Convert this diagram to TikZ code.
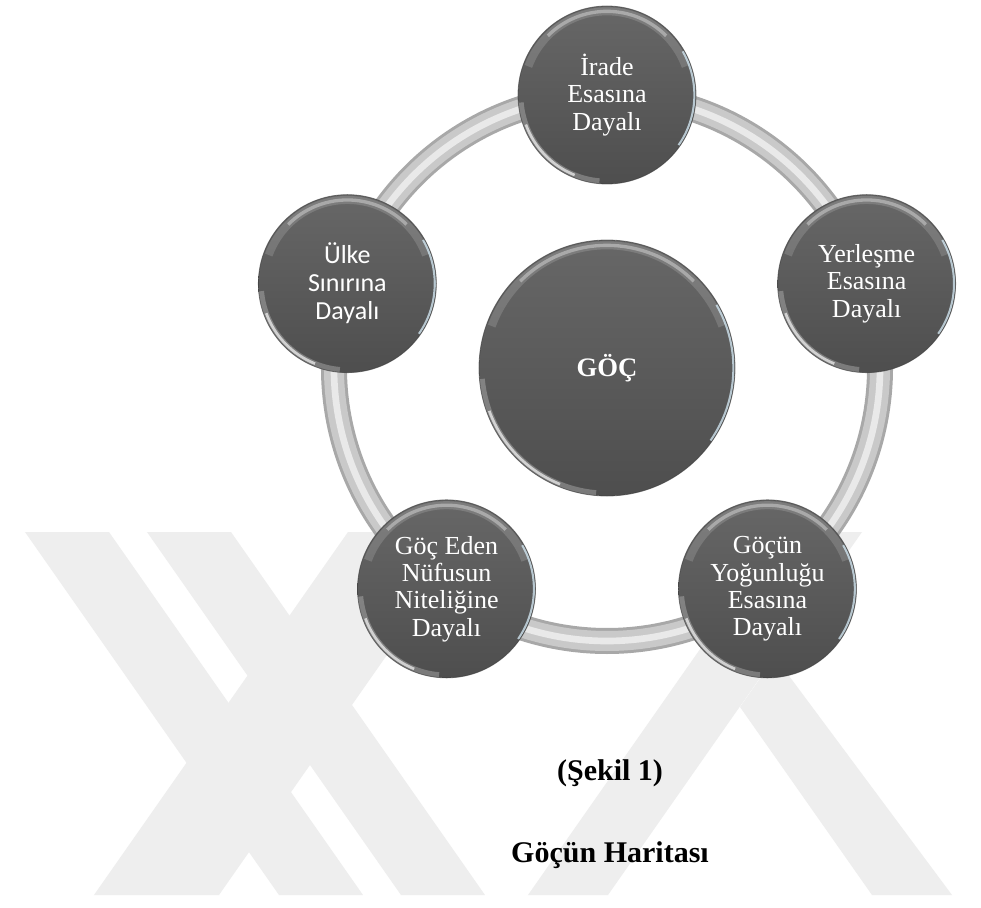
\documentclass[tikz,border=0pt]{standalone}
\usepackage{fontspec}
\setmainfont{Liberation Serif}
\newfontfamily\calibrifont{Carlito}
\usepackage{tikz}
\usetikzlibrary{positioning, calc, backgrounds}
\definecolor{balltop}{HTML}{676767}
\definecolor{ballbottom}{HTML}{4E4E4E}
\definecolor{balledge}{HTML}{3A3A3A}
\definecolor{ballrim}{HTML}{CFE3EE}
\definecolor{ringedge}{HTML}{A8A8A8}
\definecolor{ringbody}{HTML}{C9C9C9}
\definecolor{ringshine}{HTML}{E9E9E9}
\definecolor{markgray}{HTML}{EEEEEE}
\tikzset{
  % Glossy discs (argument = diameter)
  ball/.style={
    circle, minimum size=#1, inner sep=0pt, align=center, text=white,
    top color=balltop, bottom color=ballbottom, draw=balledge, draw opacity=0.6,
    line width=0.6pt, font=\fontsize{19.5}{20.5}\selectfont,
    path picture={
      \draw[white, opacity=0.15, line width=6pt]
        ([shift={(20:#1/2-4pt)}]path picture bounding box.center)
        arc[start angle=20, end angle=160, radius=#1/2-4pt];
      \draw[white, opacity=0.35, line width=2.5pt]
        ([shift={(45:#1/2-4pt)}]path picture bounding box.center)
        arc[start angle=45, end angle=135, radius=#1/2-4pt];
      \draw[white, opacity=0.25, line width=4pt]
        ([shift={(185:#1/2-2pt)}]path picture bounding box.center)
        arc[start angle=185, end angle=265, radius=#1/2-2pt];
      \draw[white, opacity=0.65, line width=2pt]
        ([shift={(200:#1/2-2pt)}]path picture bounding box.center)
        arc[start angle=200, end angle=248, radius=#1/2-2pt];
      \draw[ballrim, opacity=0.8, line width=1.6pt]
        ([shift={(-35:#1/2-1.2pt)}]path picture bounding box.center)
        arc[start angle=-35, end angle=30, radius=#1/2-1.2pt];
    },
  },
  ball/.default={133.5pt},
  % Tube joining the discs
  ring/.style={
    draw=ringedge, line width=19.5pt,
    postaction={draw=ringbody, line width=15pt},
    postaction={draw=ringshine, line width=5pt},
  },
  % Watermark bands
  markband/.style={fill=markgray},
  % Caption lines
  caption/.style={font=\fontsize{22.5}{27}\selectfont\bfseries, text=black},
}

\begin{document}
\begin{tikzpicture}[x=0.75pt, y=0.75pt]

  \useasboundingbox (-607,-539) rectangle (374,368);

  % Centre
  \node[ball=192pt, font=\fontsize{20}{22}\selectfont\bfseries] (goc) at (0,0) {GÖÇ};

  % Outer discs
  \node[ball] (irade) at (90:273) {İrade\\Esasına\\Dayalı};
  \node[ball] (yerlesme) at (18:273) {Yerleşme\\Esasına\\Dayalı};
  \node[ball] (yogunluk) at (-54:273) {Göçün\\Yoğunluğu\\Esasına\\Dayalı};
  \node[ball] (nitelik) at (234:273) {Göç Eden\\Nüfusun\\Niteliğine\\Dayalı};
  \node[ball, font=\calibrifont\fontsize{19.5}{21}\selectfont] (sinir) at (162:273) {Ülke\\Sınırına\\Dayalı};

  % Caption
  \node[caption] (sekil) at (3,-405) {(Şekil 1)};
  \node[caption] (baslik) at (3,-487) {Göçün Haritası};

  \begin{scope}[on background layer]
    \fill[white] (-607,-539) rectangle (374,368);
    % Watermark
    \begin{scope}[shift={(-607,368)}, yscale=-1]
      \clip (0,532) rectangle (981,895);
      \fill[markband] (94,895) -- (219,895) -- (473,532) -- (348,532) -- cycle;
      \fill[markband] (25,532) -- (109,532) -- (363,895) -- (279,895) -- cycle;
      \fill[markband] (147,532) -- (231,532) -- (485,895) -- (401,895) -- cycle;
      \fill[markband] (528,895) -- (608,895) -- (862,532) -- (782,532) -- cycle;
      \fill[markband] (775,657) -- (952,895) -- (872,895) -- (740,707) -- cycle;
    \end{scope}
    % Ring
    \draw[ring] (irade.center) arc[start angle=90, end angle=162, radius=273];
    \draw[ring] (sinir.center) arc[start angle=162, end angle=234, radius=273];
    \draw[ring] (nitelik.center) arc[start angle=234, end angle=306, radius=273];
    \draw[ring] (yogunluk.center) arc[start angle=306, end angle=378, radius=273];
    \draw[ring] (yerlesme.center) arc[start angle=18, end angle=90, radius=273];
  \end{scope}

\end{tikzpicture}
\end{document}
